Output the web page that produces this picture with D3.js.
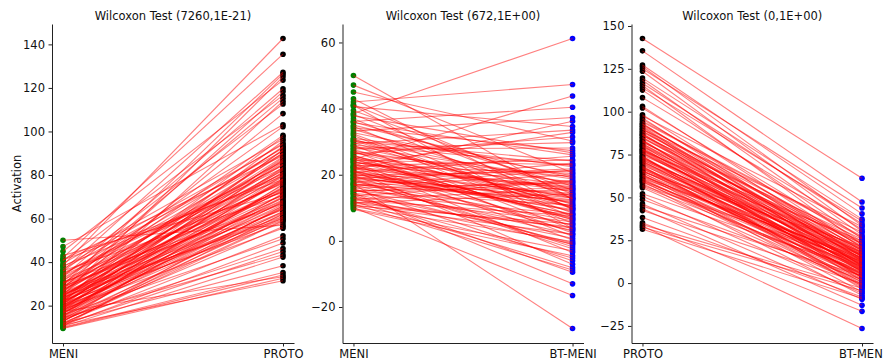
<!DOCTYPE html>
<html>
<head>
<meta charset="utf-8">
<script src="https://cdn.jsdelivr.net/npm/d3@7"></script>
<style>
  body { margin: 0; background: #fff; }
  text { font-family: "DejaVu Sans", sans-serif; fill: #111; }
</style>
</head>
<body>
<div id="chart"></div>
<script>
// paired values, one entry per subject
const meni = [
  38.5, 42.0, 36.1, 29.4, 24.7, 45.0, 33.2, 27.8, 40.6, 31.0, 21.5, 35.7, 26.3, 47.1, 30.1, 28.6, 23.0, 39.4, 19.8, 34.2,
  25.5, 32.7, 17.6, 36.9, 22.3, 28.0, 41.2, 18.9, 24.1, 30.5, 20.7, 26.8, 35.0, 16.2, 23.7, 29.0, 21.0, 33.8, 14.9, 27.2,
  19.3, 25.0, 22.6, 31.9, 17.1, 16.5, 23.3, 20.2, 28.4, 13.6, 24.6, 18.1, 26.0, 21.8, 15.5, 30.8, 19.0, 22.0, 16.8, 25.8,
  12.9, 20.5, 17.9, 23.9, 14.2, 19.6, 11.8, 21.2, 50.0, 13.2, 18.4, 12.3, 15.8, 10.9, 13.9, 11.4, 14.5, 10.4, 12.0, 10.1,
  9.8, 17.3, 9.5, 11.1, 37.8, 27.1, 20.9, 32.3, 24.4, 15.2, 29.7, 22.8, 34.6, 18.6, 26.5, 21.4, 38.2, 16.0, 24.8, 30.3,
  12.6, 19.7, 27.6, 22.1, 17.4, 36.0, 14.4, 23.6, 20.0, 28.9, 15.0, 18.8, 22.4, 11.5, 16.9, 25.3, 13.0, 10.6, 43.0, 41.0,
];
const proto = [
  142.7, 135.5, 127.2, 126.3, 125.1, 123.6, 119.6, 118.3, 116.6, 115.3, 113.9, 112.6, 108.2, 103.1, 102.2, 98.2, 97.5, 96.4, 95.6, 94.5,
  93.1, 92.4, 91.7, 91.0, 90.2, 89.5, 88.8, 88.0, 87.3, 86.5, 85.9, 85.1, 84.4, 83.6, 82.9, 82.1, 81.4, 80.6, 79.9, 79.1,
  78.4, 77.6, 76.9, 76.1, 75.4, 74.6, 73.9, 73.1, 72.4, 71.6, 70.9, 70.1, 69.4, 68.6, 67.9, 67.1, 66.4, 65.6, 64.9, 64.1,
  63.4, 62.6, 61.9, 61.1, 60.4, 59.6, 58.9, 58.1, 57.0, 56.3, 55.6, 52.1, 50.7, 48.8, 46.2, 44.9, 43.4, 42.3, 38.3, 35.2,
  34.1, 33.3, 32.6, 31.4, 94.0, 92.8, 91.3, 89.9, 88.4, 87.0, 86.2, 84.8, 83.2, 82.5, 81.0, 80.2, 79.5, 78.0, 77.2, 76.5,
  75.8, 74.2, 73.5, 72.8, 71.2, 70.5, 69.8, 68.2, 67.5, 66.8, 65.2, 64.5, 63.0, 62.2, 60.8, 60.0, 59.2, 65.9, 71.9, 77.9,
];
const btMeni = [
  61.2, 47.3, 40.4, 33.5, 43.8, 30.2, 37.3, 28.1, 34.6, 22.4, 36.2, 26.0, 31.4, 20.6, 24.2, 18.7, 32.8, 15.3, 21.1, 27.3,
  12.9, 19.6, 23.5, 9.8, 16.4, 29.7, 14.1, 21.8, 6.5, 17.2, 25.6, 11.3, 19.0, 3.2, 15.7, 22.9, 8.1, 13.5, 18.3, 1.4,
  10.6, 16.8, 24.5, 5.3, 12.2, 20.0, -3.5, 9.2, 14.8, 18.0, 7.0, 11.9, 2.4, 16.1, -0.6, 10.0, 13.0, 4.6, 21.4, 8.8,
  -5.2, 11.6, 6.1, 15.0, 0.8, 9.5, 3.9, -7.1, 12.6, 5.8, -1.2, 7.6, -6.0, 2.0, -9.5, 4.2, -13.0, -0.2, -8.1, -16.5,
  -3.0, -26.5, -4.5, -8.8, 26.6, 17.7, 13.8, 8.4, 23.0, 15.9, 10.3, 20.4, 7.3, 14.4, 19.3, 2.9, 12.8, 17.5, 6.8, 11.0,
  15.6, -1.8, 9.9, 13.3, 4.9, 16.6, 8.0, 0.3, 12.4, 3.5, 10.8, -2.4, 7.9, 14.2, 1.9, 6.4, -0.9, 5.1, 9.4, 3.7,
];

const titles = [
  "Wilcoxon Test (7260,1E-21)",
  "Wilcoxon Test (672,1E+00)",
  "Wilcoxon Test (0,1E+00)",
];
const categories1 = ["MENI", "PROTO"];
const categories2 = ["MENI", "BT-MENI"];
const categories3 = ["PROTO", "BT-MENI"];
const yTicks1 = [20, 40, 60, 80, 100, 120, 140];
const yTicks2 = [-20, 0, 20, 40, 60];
const yTicks3 = [-25, 0, 25, 50, 75, 100, 125, 150];

const width = 883;
const height = 362;
const plotTop = 24;
const plotBottom = 343;
const fontSize = "11.5px";

const panels = [
  { left: 52, right: 294, a: meni, b: proto, cats: categories1, colors: ["green", "black"], title: titles[0], ticks: yTicks1 },
  { left: 342.5, right: 583.5, a: meni, b: btMeni, cats: categories2, colors: ["green", "blue"], title: titles[1], ticks: yTicks2 },
  { left: 631.5, right: 873, a: proto, b: btMeni, cats: categories3, colors: ["black", "blue"], title: titles[2], ticks: yTicks3 },
];

const svg = d3
  .select("#chart")
  .append("svg")
  .attr("width", width)
  .attr("height", height);

panels.forEach((p) => {
  const g = svg.append("g");

  const x = d3.scaleLinear().domain([-0.05, 1.05]).range([p.left, p.right]);

  // same 5% margins as matplotlib
  const ext = d3.extent(p.a.concat(p.b));
  const pad = (ext[1] - ext[0]) * 0.05;
  const y = d3
    .scaleLinear()
    .domain([ext[0] - pad, ext[1] + pad])
    .range([plotBottom, plotTop]);

  const pairs = p.a.map((v, i) => ({ a: v, b: p.b[i] }));

  // points first, lines on top
  g.append("g")
    .selectAll("circle")
    .data(pairs)
    .enter()
    .append("circle")
    .attr("cx", x(0))
    .attr("cy", (d) => y(d.a))
    .attr("r", 2.8)
    .attr("fill", p.colors[0]);

  g.append("g")
    .selectAll("circle")
    .data(pairs)
    .enter()
    .append("circle")
    .attr("cx", x(1))
    .attr("cy", (d) => y(d.b))
    .attr("r", 2.8)
    .attr("fill", p.colors[1]);

  g.append("g")
    .selectAll("line")
    .data(pairs)
    .enter()
    .append("line")
    .attr("x1", x(0))
    .attr("y1", (d) => y(d.a))
    .attr("x2", x(1))
    .attr("y2", (d) => y(d.b))
    .attr("stroke", "red")
    .attr("stroke-opacity", 0.5)
    .attr("stroke-width", 1.1);

  const yAxis = d3
    .axisLeft(y)
    .tickValues(p.ticks)
    .tickSize(3.5)
    .tickPadding(3.5)
    .tickSizeOuter(0);
  g.append("g")
    .attr("transform", "translate(" + p.left + ",0)")
    .call(yAxis);

  const xAxis = d3
    .axisBottom(x)
    .tickValues([0, 1])
    .tickFormat((i) => p.cats[i])
    .tickSize(3.5)
    .tickPadding(3.5)
    .tickSizeOuter(0);
  g.append("g")
    .attr("transform", "translate(0," + plotBottom + ")")
    .call(xAxis);

  g.selectAll(".domain").attr("stroke", "#222").attr("stroke-width", 1);
  g.selectAll(".tick line").attr("stroke", "#222");
  g.selectAll(".tick text")
    .attr("font-family", "DejaVu Sans")
    .attr("font-size", fontSize)
    .attr("fill", "#111");

  g.append("text")
    .attr("x", (p.left + p.right) / 2)
    .attr("y", 20)
    .attr("text-anchor", "middle")
    .attr("font-size", fontSize)
    .text(p.title);
});

svg
  .append("text")
  .attr("transform", "translate(20.5," + (plotTop + plotBottom) / 2 + ") rotate(-90)")
  .attr("text-anchor", "middle")
  .attr("font-size", fontSize)
  .text("Activation");
</script>
</body>
</html>
